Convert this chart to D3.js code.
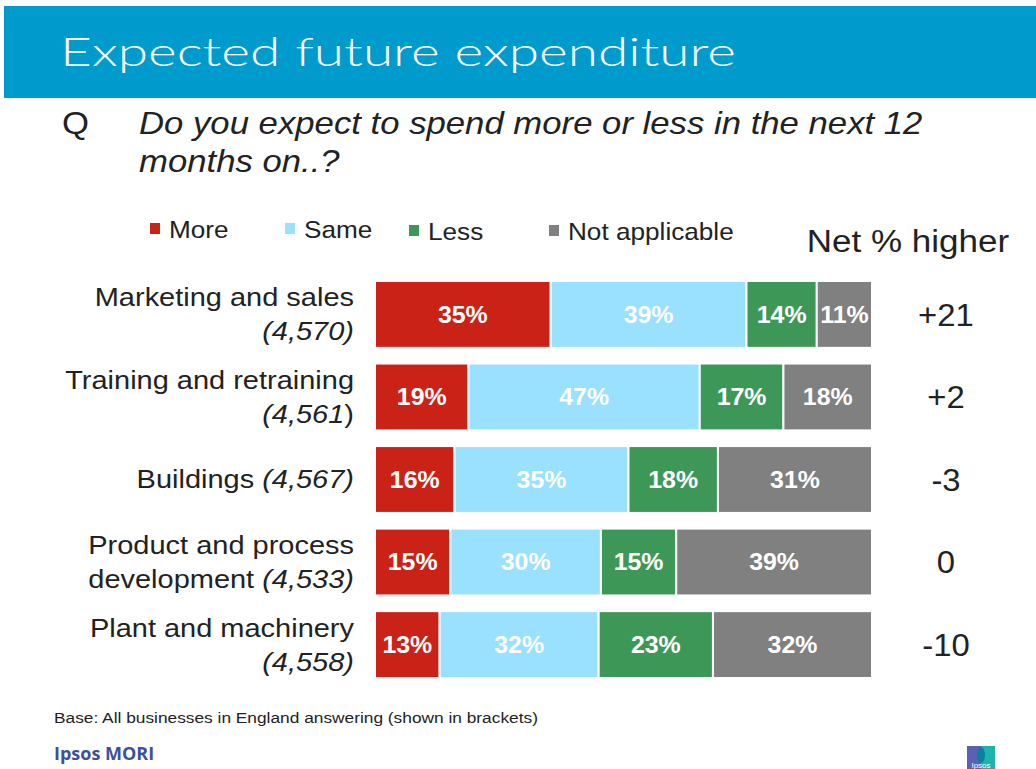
<!DOCTYPE html>
<html>
<head>
<meta charset="utf-8">
<script src="https://cdn.jsdelivr.net/npm/d3@7"></script>
<style>
  html, body { margin: 0; padding: 0; background: #fff; }
  svg { display: block; font-family: "Liberation Sans", Arial, sans-serif; }
</style>
</head>
<body>
<svg></svg>
<script>
// data
const categories = ['Marketing and sales', 'Training and retraining', 'Buildings', 'Product and process development', 'Plant and machinery'];
const bases = ['4,570', '4,561', '4,567', '4,533', '4,558'];
const more = [35, 19, 16, 15, 13];
const same = [39, 47, 35, 30, 32];
const less = [14, 17, 18, 15, 23];
const notApplicable = [11, 18, 31, 39, 32];
const netHigher = ['+21', '+2', '-3', '0', '-10'];
const keys = ['More', 'Same', 'Less', 'Not applicable'];

// how each category label is broken over lines: [text, italic]
const labelLines = [
  [[['Marketing and sales', false]], [['(4,570)', true]]],
  [[['Training and retraining', false]], [['(4,561', true], [')', false]]],
  [[['Buildings ', false], ['(4,567)', true]]],
  [[['Product and process', false]], [['development ', false], ['(4,533)', true]]],
  [[['Plant and machinery', false]], [['(4,558)', true]]]
];

const colors = { 'More': '#cb2217', 'Same': '#99e1fe', 'Less': '#3d9858', 'Not applicable': '#808080' };

// the slide text is a little wider than Liberation Sans
const stretch = (cx, k) => 'translate(' + cx + ',0) scale(' + k + ',1) translate(' + (-cx) + ',0)';

const svgWidth = 1036, svgHeight = 769;
const svg = d3.select('svg')
  .attr('width', svgWidth)
  .attr('height', svgHeight);

// header band
svg.append('rect')
  .attr('x', 4).attr('y', 6)
  .attr('width', svgWidth - 4).attr('height', 92)
  .attr('fill', '#009bcd');

svg.append('text')
  .attr('x', 60).attr('y', 66)
  .attr('fill', '#fff')
  .attr('font-family', 'Lato, "Open Sans", sans-serif')
  .attr('font-weight', 300)
  .attr('font-size', 40)
  .attr('textLength', 676)
  .attr('lengthAdjust', 'spacingAndGlyphs')
  .text('Expected future expenditure');

// question
svg.append('text')
  .attr('x', 62).attr('y', 134)
  .attr('transform', stretch(62, 1.12))
  .attr('font-size', 31).attr('fill', '#222')
  .text('Q');

const q = svg.append('text')
  .attr('transform', stretch(139, 1.12))
  .attr('font-size', 31).attr('fill', '#222')
  .attr('font-style', 'italic');
q.append('tspan').attr('x', 139).attr('y', 134).text('Do you expect to spend more or less in the next 12');
q.append('tspan').attr('x', 139).attr('y', 172).text('months on..?');

// table of rows for stacking
const table = categories.map((c, i) => ({
  category: c,
  'More': more[i],
  'Same': same[i],
  'Less': less[i],
  'Not applicable': notApplicable[i]
}));

const series = d3.stack()
  .keys(keys)
  .offset(d3.stackOffsetExpand)(table);

const x = d3.scaleLinear()
  .domain([0, 1])
  .range([375, 872]);

const y = d3.scaleBand()
  .domain(categories)
  .range([281, 678])
  .paddingInner(0.19);

const layer = svg.append('g')
  .selectAll('g')
  .data(series)
  .join('g')
  .attr('fill', d => colors[d.key]);

layer.selectAll('rect')
  .data(d => d)
  .join('rect')
  .attr('x', d => x(d[0]))
  .attr('y', d => y(d.data.category))
  .attr('width', d => x(d[1]) - x(d[0]))
  .attr('height', y.bandwidth())
  .attr('stroke', '#fff')
  .attr('stroke-width', 2);

layer.selectAll('text')
  .data(d => d.map(v => ({ v, key: d.key })))
  .join('text')
  .attr('x', d => (x(d.v[0]) + x(d.v[1])) / 2)
  .attr('y', d => y(d.v.data.category) + y.bandwidth() / 2)
  .attr('transform', d => stretch((x(d.v[0]) + x(d.v[1])) / 2, 1.06))
  .attr('dy', '0.36em')
  .attr('text-anchor', 'middle')
  .attr('fill', '#fff')
  .attr('font-weight', 'bold')
  .attr('font-size', 23.5)
  .text(d => d.v.data[d.key] + '%');

// category labels
const labels = svg.append('g')
  .attr('transform', stretch(354, 1.115))
  .selectAll('text')
  .data(categories)
  .join('text')
  .attr('text-anchor', 'end')
  .attr('font-size', 26)
  .attr('fill', '#222');

labels.each(function(c, i) {
  const lines = labelLines[i];
  const mid = y(c) + y.bandwidth() / 2;
  const lineH = 34;
  const first = mid - (lines.length - 1) * lineH / 2 + 9;
  lines.forEach((parts, li) => {
    parts.forEach((p, pi) => {
      const t = d3.select(this).append('tspan')
        .attr('font-style', p[1] ? 'italic' : 'normal')
        .text(p[0]);
      if (pi === 0) t.attr('x', 354).attr('y', first + li * lineH);
    });
  });
});

// net % higher
svg.append('text')
  .attr('x', 908).attr('y', 252)
  .attr('transform', stretch(908, 1.13))
  .attr('text-anchor', 'middle')
  .attr('font-size', 31).attr('fill', '#222')
  .text('Net % higher');

svg.append('g')
  .attr('transform', stretch(946, 1.06))
  .selectAll('text')
  .data(netHigher)
  .join('text')
  .attr('x', 946)
  .attr('y', (d, i) => y(categories[i]) + y.bandwidth() / 2)
  .attr('dy', '0.36em')
  .attr('text-anchor', 'middle')
  .attr('font-size', 31).attr('fill', '#222')
  .text(d => d);

// legend
const legendX = [150, 285, 409, 549];
const legendY = [238, 238, 240, 240];
const legend = svg.append('g')
  .selectAll('g')
  .data(keys)
  .join('g')
  .attr('transform', (d, i) => 'translate(' + legendX[i] + ',' + (legendY[i] - 238) + ')');

legend.append('rect')
  .attr('x', 0).attr('y', 223)
  .attr('width', 10).attr('height', 11)
  .attr('fill', d => colors[d]);

legend.append('text')
  .attr('x', 19).attr('y', 238)
  .attr('transform', stretch(19, 1.09))
  .attr('font-size', 24).attr('fill', '#222')
  .text(d => d);

// footer
svg.append('text')
  .attr('x', 54).attr('y', 723)
  .attr('transform', stretch(54, 1.155))
  .attr('font-size', 15).attr('fill', '#222')
  .text('Base: All businesses in England answering (shown in brackets)');

svg.append('text')
  .attr('x', 54).attr('y', 760)
  .attr('font-family', '"Open Sans", sans-serif')
  .attr('font-weight', 'bold')
  .attr('font-size', 18).attr('fill', '#3e4f9b')
  .text('Ipsos MORI');

// small Ipsos mark
const mark = svg.append('g').attr('transform', 'translate(967,746)');
mark.append('rect').attr('width', 14).attr('height', 23).attr('fill', '#5a60b2');
mark.append('rect').attr('x', 14).attr('width', 14).attr('height', 23).attr('fill', '#1fb3ad');
mark.append('ellipse').attr('cx', 14).attr('cy', 9).attr('rx', 4).attr('ry', 8).attr('fill', '#0a7fa0');
mark.append('text')
  .attr('x', 14).attr('y', 22)
  .attr('text-anchor', 'middle')
  .attr('font-size', 8).attr('fill', '#fff')
  .text('Ipsos');
</script>
</body>
</html>
